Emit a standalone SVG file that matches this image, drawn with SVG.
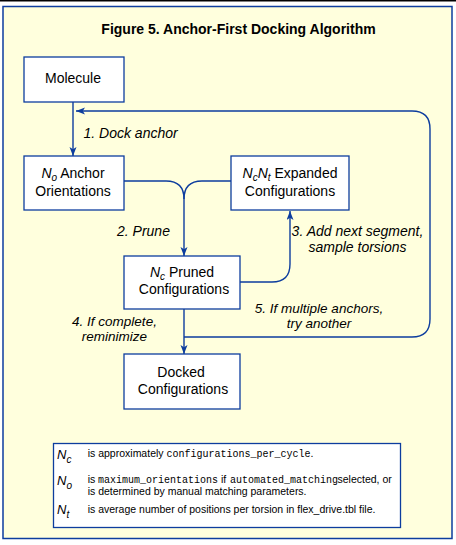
<svg xmlns="http://www.w3.org/2000/svg" width="456" height="545" viewBox="0 0 456 545">
<defs>
<style>
.frame{fill:#FFFFDD;stroke:#0D3D9E;stroke-width:1.5}
.box{fill:#FFFFFF;stroke:#0D3D9E;stroke-width:1.3}
.t{font-family:"Liberation Sans",Arial,sans-serif;font-size:14px;fill:#000}
.c{text-anchor:middle}
.i{font-style:italic}
.title{font-family:"Liberation Sans",Arial,sans-serif;font-size:14px;font-weight:bold;text-anchor:middle}
.lbl{font-family:"Liberation Sans",Arial,sans-serif;font-size:14px;font-style:italic;fill:#000}
.lbl2{font-size:13.5px}
.lg{font-family:"Liberation Sans",Arial,sans-serif;font-size:10.5px;fill:#000}
.mono{font-family:"Liberation Mono","Courier New",monospace;font-size:10px}
.sym{font-family:"Liberation Sans",Arial,sans-serif;font-size:13px;font-style:italic}
.sub{font-size:10px}
.conn path{fill:none;stroke:#0D3D9E;stroke-width:1.4}
</style>
<marker id="arr" markerUnits="userSpaceOnUse" markerWidth="10" markerHeight="8" refX="9" refY="3.5" orient="auto">
<path d="M0,0 L9,3.5 L0,7 L2.2,3.5 z" fill="#0D3D9E"/>
</marker>
</defs>
<rect x="0" y="0" width="456" height="545" fill="#FFFFFF"/>
<rect x="0" y="0" width="456" height="1.5" fill="#000000"/>
<rect class="frame" x="3" y="6.5" width="449" height="532"/>
<text class="title" x="238.5" y="34">Figure 5. Anchor-First Docking Algorithm</text>

<g class="conn" id="connectors">
<path d="M73,102 V156" marker-end="url(#arr)"/>
<path d="M124,181 H166 Q184,181 184,199"/>
<path d="M231,181 H202 Q184,181 184,199"/>
<path d="M184,199 V256" marker-end="url(#arr)"/>
<path d="M240,282 H272 Q290,282 290,264 V211" marker-end="url(#arr)"/>
<path d="M184,309 V354" marker-end="url(#arr)"/>
<path d="M184,337 H412 Q430,337 430,319 V129 Q430,111 412,111 H76" marker-end="url(#arr)"/>
</g>

<g id="labels">
<text class="lbl" x="83.5" y="138">1. Dock anchor</text>
<text class="lbl" x="117" y="236">2. Prune</text>
<text class="lbl c" x="357.5" y="236">3. Add next segment,</text>
<text class="lbl c" x="357.5" y="252">sample torsions</text>
<text class="lbl lbl2 c" x="114.5" y="325.5">4. If complete,</text>
<text class="lbl lbl2 c" x="114.5" y="340.5">reminimize</text>
<text class="lbl lbl2 c" x="319" y="312.5">5. If multiple anchors,</text>
<text class="lbl lbl2 c" x="319" y="327.5">try another</text>
</g>

<g id="molecule">
<rect class="box" x="24" y="57" width="100" height="45"/>
<text class="t c" x="73" y="83">Molecule</text>
</g>

<g id="anchor-orientations">
<rect class="box" x="24" y="156" width="100" height="54"/>
<text class="t c" x="73" y="178"><tspan class="i">N</tspan><tspan class="sub i" dy="3">o</tspan><tspan dy="-3"> Anchor</tspan></text>
<text class="t c" x="73" y="196">Orientations</text>
</g>

<g id="expanded-configurations">
<rect class="box" x="231" y="156" width="118" height="54"/>
<text class="t c" x="290" y="178"><tspan class="i">N</tspan><tspan class="sub i" dy="3">c</tspan><tspan class="i" dy="-3">N</tspan><tspan class="sub i" dy="3">t</tspan><tspan dy="-3"> Expanded</tspan></text>
<text class="t c" x="290" y="196">Configurations</text>
</g>

<g id="pruned-configurations">
<rect class="box" x="124" y="256" width="116" height="53"/>
<text class="t c" x="182" y="277"><tspan class="i">N</tspan><tspan class="sub i" dy="3">c</tspan><tspan dy="-3"> Pruned</tspan></text>
<text class="t c" x="184" y="294">Configurations</text>
</g>

<g id="docked-configurations">
<rect class="box" x="124" y="354" width="116" height="55"/>
<text class="t c" x="181" y="377">Docked</text>
<text class="t c" x="183" y="394">Configurations</text>
</g>

<g id="legend">
<rect class="box" x="53.5" y="443.5" width="347" height="84"/>
<text class="sym" x="57" y="459">N<tspan class="sub" dy="3.5">c</tspan></text>
<text class="lg" x="87.7" y="457">is approximately <tspan class="mono" x="166.5">configurations_per_cycle</tspan><tspan x="310.5">.</tspan></text>
<text class="sym" x="57" y="485">N<tspan class="sub" dy="3.5">o</tspan></text>
<text class="lg" x="87.7" y="483">is <tspan class="mono" x="98">maximum_orientations</tspan><tspan x="221">if</tspan><tspan class="mono" x="230">automated_matching</tspan><tspan x="337.5">selected, or</tspan></text>
<text class="lg" x="87.7" y="494.5">is determined by manual matching parameters.</text>
<text class="sym" x="57" y="514">N<tspan class="sub" dy="3.5">t</tspan></text>
<text class="lg" x="87.7" y="512.5">is average number of positions per torsion in flex_drive.tbl file.</text>
</g>
</svg>
